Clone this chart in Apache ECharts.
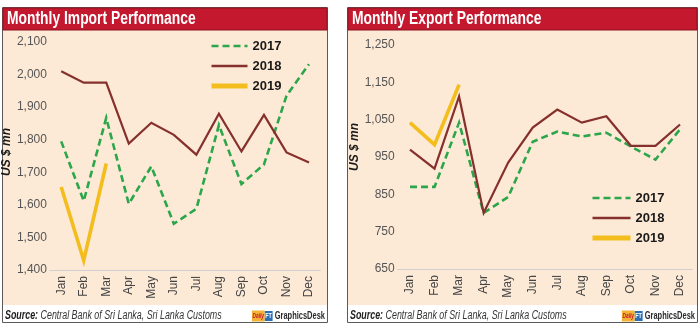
<!DOCTYPE html>
<html>
<head>
<meta charset="utf-8">
<script src="https://cdn.jsdelivr.net/npm/echarts@6/dist/echarts.min.js"></script>
<style>
html,body{margin:0;padding:0;background:#fff;}
#c{width:700px;height:330px;}
</style>
</head>
<body>
<div id="c"></div>
<script>
const months = ['Jan','Feb','Mar','Apr','May','Jun','Jul','Aug','Sep','Oct','Nov','Dec'];
const seriesNames = ['2017','2018','2019'];
const import2017 = [1795, 1612, 1867, 1603, 1718, 1542, 1588, 1845, 1664, 1724, 1935, 2032];
const import2018 = [2010, 1975, 1975, 1788, 1852, 1815, 1754, 1880, 1764, 1876, 1761, 1730];
const import2019 = [1655, 1430, 1727];
const export2017 = [870, 870, 1042, 800, 843, 991, 1018, 1005, 1015, 978, 943, 1024];
const export2018 = [970, 919, 1112, 800, 935, 1029, 1077, 1042, 1059, 980, 980, 1037];
const export2019 = [1042, 983, 1144];
const importTitle = 'Monthly Import Performance';
const exportTitle = 'Monthly Export Performance';
const axisName = 'US $ mn';
const sourceText = 'Central Bank of Sri Lanka, Sri Lanka Customs';

const FONT = "'Liberation Sans', Arial, sans-serif";
const colors = {g:'#2ba64b', b:'#85302c', y:'#f4bd1e'};
const styles = [
  {color: colors.g, width: 2.6, type: [7, 4], legendWidth: 2.6},
  {color: colors.b, width: 2.2, type: 'solid', legendWidth: 2.6},
  {color: colors.y, width: 3.6, type: 'solid', legendWidth: 5}
];

function mkSeries(dataArr, idx) {
  return dataArr.map((d, i) => ({
    name: seriesNames[i], type: 'line', data: d,
    xAxisIndex: idx, yAxisIndex: idx,
    symbol: 'none', showSymbol: false, silent: true, animation: false,
    itemStyle: {color: styles[i].color},
    lineStyle: {color: styles[i].color, width: styles[i].width, type: styles[i].type, cap: 'butt', join: 'miter'},
    z: 3 + i
  }));
}

function xAx(idx) {
  return {
    type: 'category', data: months, gridIndex: idx, boundaryGap: true,
    axisLine: {show: true, lineStyle: {color: '#cfcfcf', width: 1}},
    axisTick: {show: false},
    axisLabel: {rotate: 90, margin: 6, color: '#444', fontSize: 12, fontFamily: FONT, interval: 0}
  };
}
function yAx(idx, min, max, gap, shift) {
  return {
    type: 'value', gridIndex: idx, min: min, max: max, interval: 100,
    name: axisName, nameLocation: 'middle', nameRotate: 90, nameGap: gap,
    nameTextStyle: {fontStyle: 'italic', fontWeight: 'bold', fontSize: 12, color: '#1a1a1a', fontFamily: FONT, padding: [0, 0, 0, shift]},
    axisLine: {show: false}, axisTick: {show: false}, splitLine: {show: false},
    axisLabel: {margin: 3, color: '#555', fontSize: 12, fontFamily: FONT}
  };
}
function legendFor(left, top, w) {
  return {
    data: seriesNames.map((n, i) => ({name: n, lineStyle: {width: styles[i].legendWidth}})),
    orient: 'vertical', left: left, top: top, padding: 0,
    itemWidth: w, itemHeight: 14, itemGap: 6, selectedMode: false,
    itemStyle: {opacity: 0, borderWidth: 0},
    textStyle: {fontWeight: 'bold', fontSize: 13, color: '#1a1a1a', fontFamily: FONT, lineHeight: 14}
  };
}
function panel(x, w, title) {
  return [
    {type: 'rect', shape: {x: x + 0.5, y: 7.5, width: w, height: 315}, style: {fill: '#fff', stroke: '#5a5a5a', lineWidth: 1}, z: -10},
    {type: 'rect', shape: {x: x + 1, y: 30, width: w - 1, height: 275}, style: {fill: '#fdead6'}, z: -9},
    {type: 'rect', shape: {x: x + 1, y: 8, width: w - 1, height: 22}, style: {fill: '#c4182f', stroke: '#8e1020', lineWidth: 1}, z: -9},
    {type: 'text', x: x + 5, y: 19.5, scaleX: 0.77, style: {text: title, fill: '#fff', font: 'bold 18px ' + FONT, verticalAlign: 'middle', textAlign: 'left'}, z: 10},
    {type: 'text', x: x + 3, y: 316, scaleX: 0.74, style: {
      text: '{s|Source:} {t|' + sourceText + '}', verticalAlign: 'middle', textAlign: 'left',
      rich: {
        s: {font: 'italic bold 12px ' + FONT, fill: '#1a1a1a'},
        t: {font: 'italic 12px ' + FONT, fill: '#333'}
      }}, z: 10},
    {type: 'text', x: x + w - 2, y: 316, scaleX: 0.68, style: {
      text: '{a|Daily}{b|FT}{c| GraphicsDesk}', verticalAlign: 'middle', textAlign: 'right',
      rich: {
        a: {font: 'bold italic 7px ' + FONT, fill: '#c4182f', backgroundColor: '#f2b233', padding: [2, 1, 2, 1]},
        b: {font: 'bold 8px ' + FONT, fill: '#fff', backgroundColor: '#2a6fb3', padding: [1, 1, 1, 1]},
        c: {font: 'bold 11px ' + FONT, fill: '#2a2a2a'}
      }}, z: 10}
  ];
}

const chart = echarts.init(document.getElementById('c'), null, {renderer: 'canvas'});
chart.setOption({
  animation: false,
  backgroundColor: '#fff',
  graphic: {elements: panel(2, 325, importTitle).concat(panel(347, 350, exportTitle))},
  grid: [
    {left: 48.7, width: 271.6, top: 42, height: 228},
    {left: 397.7, width: 294.6, top: 45, height: 224}
  ],
  legend: [legendFor(209, 39, 36), legendFor(590, 191, 38)],
  xAxis: [xAx(0), xAx(1)],
  yAxis: [yAx(0, 1400, 2100, 33, 8), yAx(1, 650, 1250, 36, 20)],
  series: mkSeries([import2017, import2018, import2019], 0)
    .concat(mkSeries([export2017, export2018, export2019], 1))
});
</script>
</body>
</html>
